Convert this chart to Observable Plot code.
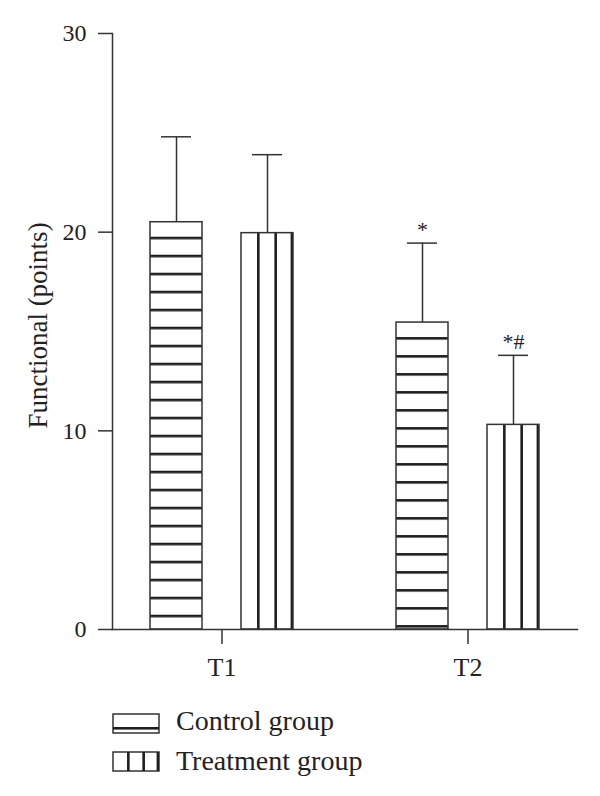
<!DOCTYPE html>
<html>
<head>
<meta charset="utf-8">
<script src="https://cdn.jsdelivr.net/npm/d3@7"></script>
<script src="https://cdn.jsdelivr.net/npm/@observablehq/plot@0.6"></script>
<style>
  html, body { margin: 0; padding: 0; background: #fff; }
  #wrap { position: relative; width: 600px; height: 796px; overflow: hidden; font-family: "Liberation Serif", "DejaVu Serif", serif; color: #222; }
  #legend { position: absolute; left: 0; top: 700px; width: 600px; height: 96px; }
  .lg-swatch { position: absolute; left: 112px; }
  .lg-text { position: absolute; left: 176px; font-size: 28px; line-height: 32px; white-space: nowrap; }
</style>
</head>
<body>
<div id="wrap">
  <div id="chart"></div>
  <div id="legend"></div>
</div>
<script>
// ---- data ----
const groups = ["T1", "T2"];
const seriesNames = ["Control group", "Treatment group"];
const controlMean = [20.5, 15.45];
const controlSD = [4.3, 4.0];
const treatmentMean = [19.95, 10.3];
const treatmentSD = [3.95, 3.5];
const controlNote = ["", "*"];
const treatmentNote = ["", "*#"];
const yTicks = [0, 10, 20, 30];
const yLabel = "Functional (points)";

const rows = groups.flatMap((g, i) => [
  {group: g, series: seriesNames[0], mean: controlMean[i], sd: controlSD[i], note: controlNote[i]},
  {group: g, series: seriesNames[1], mean: treatmentMean[i], sd: treatmentSD[i], note: treatmentNote[i]}
]);

const ink = "#333";
const font = "Liberation Serif";

const chart = Plot.plot({
  width: 600,
  height: 700,
  marginLeft: 111,
  marginRight: 22,
  marginTop: 33,
  marginBottom: 71,
  style: {fontFamily: font, fontSize: "24px", color: "#222", background: "white", overflow: "visible"},
  fx: {domain: groups, paddingInner: 0.1093, paddingOuter: 0, label: null},
  x: {domain: seriesNames, paddingInner: 0.424, paddingOuter: 0.4076, axis: null},
  y: {domain: [0, 30]},
  marks: [
    Plot.barY(rows.filter(d => d.series === seriesNames[0]), {fx: "group", x: "series", y: "mean", fill: "url(#hstripe)", stroke: ink, strokeWidth: 1.5}),
    Plot.barY(rows.filter(d => d.series === seriesNames[1]), {fx: "group", x: "series", y: "mean", fill: "url(#vstripe)", stroke: ink, strokeWidth: 1.5}),
    Plot.ruleX(rows, {fx: "group", x: "series", y1: "mean", y2: d => d.mean + d.sd, stroke: ink, strokeWidth: 1.5}),
    Plot.tickY(rows, {fx: "group", x: "series", y: d => d.mean + d.sd, insetLeft: 11, insetRight: 11, stroke: ink, strokeWidth: 1.5}),
    Plot.text(rows.filter(d => d.note), {fx: "group", x: "series", y: d => d.mean + d.sd, text: "note", dy: -13, fontSize: 22, fill: "#222"}),
    Plot.frame({anchor: "left", facet: "super", stroke: ink, strokeWidth: 1.5}),
    Plot.frame({anchor: "bottom", facet: "super", stroke: ink, strokeWidth: 1.5}),
    Plot.axisY({ticks: yTicks, tickSize: 14, tickPadding: 12, stroke: ink, strokeWidth: 1.5, fontSize: 24, label: null}),
    Plot.text([yLabel], {frameAnchor: "left", facet: "super", rotate: -90, textAnchor: "middle", lineAnchor: "middle",
      dx: -74.5, dy: -6, fontSize: 27, fill: "#222"}),
    Plot.axisFx({anchor: "bottom", tickSize: 15, tickPadding: 13, stroke: ink, strokeWidth: 1.5, fontSize: 26, label: null})
  ]
});

// per-bar patterns aligned to each bar's own edges
const ns = "http://www.w3.org/2000/svg";
const defs = document.createElementNS(ns, "defs");
chart.insertBefore(defs, chart.firstChild);
function el(name, attrs, parent) {
  const e = document.createElementNS(ns, name);
  for (const k in attrs) e.setAttribute(k, attrs[k]);
  if (parent) parent.appendChild(e);
  return e;
}
let pid = 0;
chart.querySelectorAll('g[fill="url(#hstripe)"] rect, g[fill="url(#vstripe)"] rect').forEach(r => {
  const horiz = r.parentNode.closest('g[fill]').getAttribute("fill").includes("hstripe");
  const x = +r.getAttribute("x"), y = +r.getAttribute("y");
  const w = +r.getAttribute("width"), h = +r.getAttribute("height");
  const id = "barpat" + (pid++);
  const p = el("pattern", {id, patternUnits: "userSpaceOnUse", x, y, width: w, height: horiz ? 18 : h}, defs);
  el("rect", {x: 0, y: 0, width: w, height: horiz ? 18 : h, fill: "#fff"}, p);
  if (horiz) {
    el("rect", {x: 0, y: 15, width: w, height: 2.6, fill: "#1e1e1e"}, p);
  } else {
    el("rect", {x: w / 3 - 1.3, y: 0, width: 2.6, height: h, fill: "#1e1e1e"}, p);
    el("rect", {x: 2 * w / 3 - 1.3, y: 0, width: 2.6, height: h, fill: "#1e1e1e"}, p);
    el("rect", {x: w - 2.4, y: 0, width: 2.4, height: h, fill: "#1e1e1e"}, p);
  }
  r.setAttribute("fill", `url(#${id})`);
});

document.getElementById("chart").appendChild(chart);

// legend
const legend = document.getElementById("legend");
function swatch(horiz, top) {
  const s = el("svg", {width: 48, height: 21, class: "lg-swatch"});
  s.style.top = top + "px";
  el("rect", {x: 1, y: 1, width: 46, height: 19, fill: "#fff", stroke: ink, "stroke-width": 1.5}, s);
  if (horiz) {
    el("rect", {x: 1, y: 14, width: 46, height: 2.6, fill: "#1e1e1e"}, s);
  } else {
    el("rect", {x: 1 + 46 / 3 - 1.3, y: 1, width: 2.6, height: 19, fill: "#1e1e1e"}, s);
    el("rect", {x: 1 + 2 * 46 / 3 - 1.3, y: 1, width: 2.6, height: 19, fill: "#1e1e1e"}, s);
    el("rect", {x: 47 - 2.4, y: 1, width: 2.4, height: 19, fill: "#1e1e1e"}, s);
  }
  legend.appendChild(s);
}
function label(txt, top) {
  const t = document.createElement("div");
  t.className = "lg-text";
  t.style.top = top + "px";
  t.textContent = txt;
  legend.appendChild(t);
}
swatch(true, 13);
label(seriesNames[0], 5);
swatch(false, 51);
label(seriesNames[1], 45);
</script>
</body>
</html>
